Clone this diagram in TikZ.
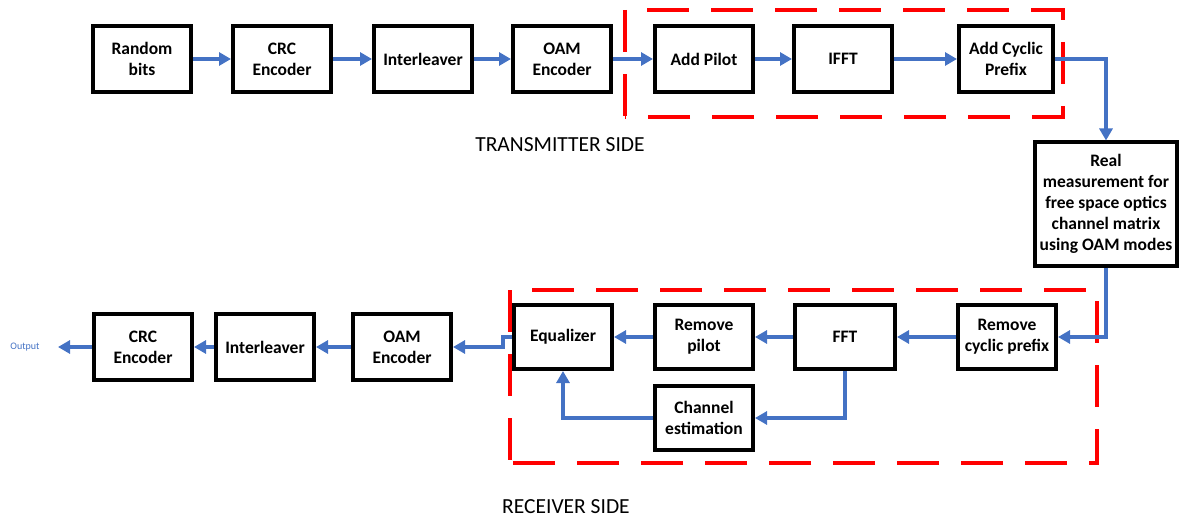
\documentclass[tikz,border=0pt]{standalone}
\usepackage{fontspec}
\setmainfont{Carlito}
\usetikzlibrary{arrows.meta}
\definecolor{flowblue}{HTML}{4472C4}
\definecolor{grpred}{HTML}{FF0000}
\tikzset{
  blk/.style={draw=black, line width=2pt, fill=white, minimum width=49pt, minimum height=33pt,
    inner sep=1pt, align=center, font=\bfseries\fontsize{8.75}{10.5}\selectfont},
  flow/.style={draw=flowblue, line width=1.6pt, -{Triangle[length=6pt,width=6.5pt]}},
  grp/.style={draw=grpred, line width=2.2pt, dash pattern=on 21pt off 11pt},
  side/.style={font=\fontsize{10.75}{12}\selectfont, anchor=center},
}
\begin{document}
\begin{tikzpicture}[x=0.5pt,y=-0.5pt]
\useasboundingbox (0,0) rectangle (1179,519);
% group frames
\draw[grp] (625,10) -- (625,117);
\draw[grp, dash phase=21pt] (625,10) -- (1063,10) -- (1063,117) -- (625,117);
\draw[grp] (510,290) -- (510,463);
\draw[grp, dash phase=21pt] (510,290) -- (1097,290) -- (1097,463) -- (510,463);
% transmitter row
\node[blk] (rb) at (142,59) {Random\\bits};
\node[blk] (crc) at (282,59) {CRC\\Encoder};
\node[blk] (il) at (423,59) {Interleaver};
\node[blk] (oam) at (562,59) {OAM\\Encoder};
\node[blk] (ap) at (704,59) {Add Pilot};
\node[blk] (ifft) at (843,59) {IFFT};
\node[blk, minimum width=47pt] (acp) at (1006,59) {Add Cyclic\\Prefix};
\node[side] (tx) at (560,145) {TRANSMITTER SIDE};
% channel
\node[blk, minimum width=71pt, minimum height=61.5pt] (real) at (1106,204)
  {Real\\measurement for\\free space optics\\channel matrix\\using OAM modes};
% receiver row
\node[blk, minimum height=32pt] (rcp) at (1007,337) {Remove\\cyclic prefix};
\node[blk, minimum width=50pt, minimum height=32pt] (fft) at (845,337) {FFT};
\node[blk, minimum height=32pt] (rp) at (704,337) {Remove\\pilot};
\node[blk, minimum height=32pt] (eq) at (563,337) {Equalizer};
\node[blk, minimum height=32pt] (ce) at (704,418) {Channel\\estimation};
\node[blk] (oam2) at (402,347) {OAM\\Encoder};
\node[blk] (il2) at (265,347) {Interleaver};
\node[blk] (crc2) at (143,347) {CRC\\Encoder};
\node[font=\fontsize{5}{6}\selectfont, text=flowblue, inner sep=0pt] (out) at (25,347) {Output};
\coordinate (outtip) at (58,347);
\coordinate (jog) at (503,337);
\node[side] (rx) at (566,507) {RECEIVER SIDE};
% connectors
\draw[flow] (rb) -- (crc);
\draw[flow] (crc) -- (il);
\draw[flow] (il) -- (oam);
\draw[flow] (oam) -- (ap);
\draw[flow] (ap) -- (ifft);
\draw[flow] (ifft) -- (acp);
\draw[flow] (acp.east) -| (real.north);
\draw[flow] (real.south) |- (rcp.east);
\draw[flow] (rcp) -- (fft);
\draw[flow] (fft) -- (rp);
\draw[flow] (rp) -- (eq);
\draw[flow] (fft.south) |- (ce.east);
\draw[flow] (ce.west) -| (eq.south);
\draw[flow] (eq.west) -- (jog) |- (oam2.east);
\draw[flow] (oam2) -- (il2);
\draw[flow] (il2) -- (crc2);
\draw[flow] (crc2.west) -- (outtip);
\end{tikzpicture}
\end{document}
